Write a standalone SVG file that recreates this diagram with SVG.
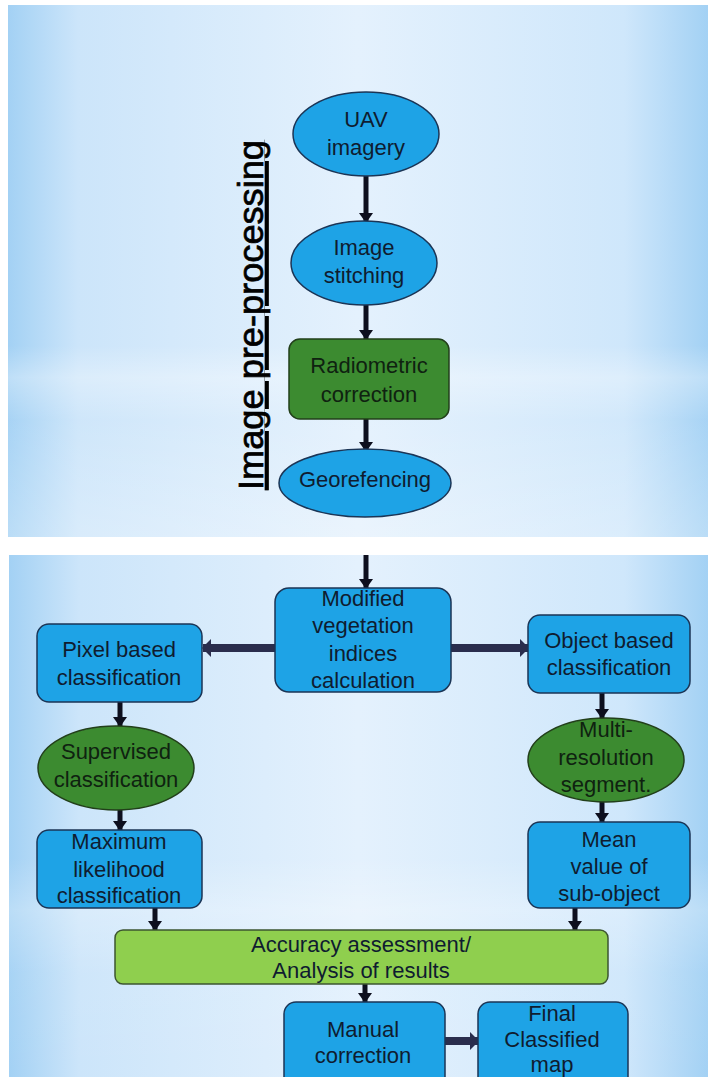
<svg xmlns="http://www.w3.org/2000/svg" width="708" height="1077" viewBox="0 0 708 1077">
<defs>
<linearGradient id="bgH" x1="0" y1="0" x2="1" y2="0">
<stop offset="0" stop-color="#a3d1f4"/>
<stop offset="0.1" stop-color="#cce5fa"/>
<stop offset="0.5" stop-color="#e4f1fd"/>
<stop offset="0.88" stop-color="#cfe7fb"/>
<stop offset="1" stop-color="#a3d1f4"/>
</linearGradient>
<linearGradient id="bandTop" x1="0" y1="0" x2="0" y2="1">
<stop offset="0" stop-color="#ffffff" stop-opacity="0"/>
<stop offset="0.64" stop-color="#ffffff" stop-opacity="0"/>
<stop offset="0.7" stop-color="#ffffff" stop-opacity="0.3"/>
<stop offset="0.78" stop-color="#ffffff" stop-opacity="0.05"/>
<stop offset="1" stop-color="#ffffff" stop-opacity="0.25"/>
</linearGradient>
<linearGradient id="bandBot" x1="0" y1="0" x2="0" y2="1">
<stop offset="0" stop-color="#ffffff" stop-opacity="0"/>
<stop offset="0.58" stop-color="#ffffff" stop-opacity="0"/>
<stop offset="0.68" stop-color="#ffffff" stop-opacity="0.25"/>
<stop offset="0.8" stop-color="#ffffff" stop-opacity="0.05"/>
<stop offset="1" stop-color="#ffffff" stop-opacity="0"/>
</linearGradient>
<marker id="ahV" markerUnits="userSpaceOnUse" markerWidth="10" markerHeight="14" refX="9" refY="7" orient="auto" viewBox="0 0 10 14">
<path d="M0,0 L10,7 L0,14 Z" fill="#0d0f1e"/>
</marker>
<marker id="ahH" markerUnits="userSpaceOnUse" markerWidth="9" markerHeight="18" refX="8" refY="9" orient="auto" viewBox="0 0 9 18">
<path d="M0,0 L9,9 L0,18 Z" fill="#2a2d4d"/>
</marker>
<style>
.blue{fill:#1ea3e6;stroke:#1b3556;stroke-width:1.5}
.green{fill:#3c8b30;stroke:#223f1a;stroke-width:1.5}
.lgreen{fill:#8fcf4e;stroke:#3d5530;stroke-width:1.5}
.t{font-family:"Liberation Sans","Open Sans",sans-serif;font-size:22px;fill:#0f1c30;text-anchor:middle}
.tg{fill:#0f2210}
.vline{stroke:#0d0f1e;stroke-width:5;fill:none}
.hline{stroke:#2a2d4d;stroke-width:8;fill:none}
</style>
</defs>

<rect x="0" y="0" width="708" height="1077" fill="#ffffff"/>
<rect x="8" y="5" width="700" height="532" fill="url(#bgH)"/>
<rect x="8" y="5" width="700" height="532" fill="url(#bandTop)"/>
<rect x="9" y="555" width="699" height="522" fill="url(#bgH)"/>
<rect x="9" y="555" width="699" height="522" fill="url(#bandBot)"/>

<g id="title">
<text x="0" y="0" transform="translate(263,315) rotate(-90)" font-family="'Liberation Sans','Open Sans',sans-serif" font-size="35" fill="#000000" stroke="#000000" stroke-width="0.7" text-anchor="middle" text-decoration="underline" textLength="350" lengthAdjust="spacingAndGlyphs">Image pre-processing</text>
</g>

<g id="connectors">
<line class="vline" x1="366" y1="176" x2="366" y2="222" marker-end="url(#ahV)"/>
<line class="vline" x1="366" y1="305" x2="366" y2="339" marker-end="url(#ahV)"/>
<line class="vline" x1="366" y1="419" x2="366" y2="451" marker-end="url(#ahV)"/>
<line class="vline" x1="366" y1="555" x2="366" y2="588" marker-end="url(#ahV)"/>
<line class="hline" x1="275" y1="648" x2="203" y2="648" marker-end="url(#ahH)"/>
<line class="hline" x1="451" y1="648" x2="528" y2="648" marker-end="url(#ahH)"/>
<line class="vline" x1="120" y1="702" x2="120" y2="726" marker-end="url(#ahV)"/>
<line class="vline" x1="120" y1="810" x2="120" y2="830" marker-end="url(#ahV)"/>
<line class="vline" x1="155" y1="908" x2="155" y2="930" marker-end="url(#ahV)"/>
<line class="vline" x1="602" y1="693" x2="602" y2="718" marker-end="url(#ahV)"/>
<line class="vline" x1="602" y1="802" x2="602" y2="822" marker-end="url(#ahV)"/>
<line class="vline" x1="575" y1="908" x2="575" y2="930" marker-end="url(#ahV)"/>
<line class="vline" x1="365" y1="984" x2="365" y2="1002" marker-end="url(#ahV)"/>
<line class="hline" x1="445" y1="1041" x2="478" y2="1041" marker-end="url(#ahH)"/>
</g>

<g id="uav">
<ellipse class="blue" cx="366" cy="134" rx="73" ry="42"/>
<text class="t" x="366" y="127">UAV</text>
<text class="t" x="366" y="155">imagery</text>
</g>
<g id="stitching">
<ellipse class="blue" cx="364" cy="263" rx="73" ry="42"/>
<text class="t" x="364" y="255">Image</text>
<text class="t" x="364" y="283">stitching</text>
</g>
<g id="radiometric">
<rect class="green" x="289" y="339" width="160" height="80" rx="11"/>
<text class="t tg" x="369" y="373">Radiometric</text>
<text class="t tg" x="369" y="402">correction</text>
</g>
<g id="georef">
<ellipse class="blue" cx="365" cy="483" rx="86" ry="34"/>
<text class="t" x="365" y="487">Georefencing</text>
</g>

<g id="modified">
<rect class="blue" x="275" y="588" width="176" height="104" rx="14"/>
<text class="t" x="363" y="606">Modified</text>
<text class="t" x="363" y="633">vegetation</text>
<text class="t" x="363" y="661">indices</text>
<text class="t" x="363" y="688">calculation</text>
</g>
<g id="pixel">
<rect class="blue" x="37" y="624" width="165" height="78" rx="12"/>
<text class="t" x="119" y="657">Pixel based</text>
<text class="t" x="119" y="685">classification</text>
</g>
<g id="object">
<rect class="blue" x="528" y="615" width="162" height="78" rx="12"/>
<text class="t" x="609" y="648">Object based</text>
<text class="t" x="609" y="675">classification</text>
</g>
<g id="supervised">
<ellipse class="green" cx="116" cy="768" rx="78" ry="42"/>
<text class="t tg" x="116" y="759">Supervised</text>
<text class="t tg" x="116" y="787">classification</text>
</g>
<g id="multires">
<ellipse class="green" cx="606" cy="760" rx="78" ry="42"/>
<text class="t tg" x="606" y="737">Multi-</text>
<text class="t tg" x="606" y="765">resolution</text>
<text class="t tg" x="606" y="792">segment.</text>
</g>
<g id="maxlike">
<rect class="blue" x="37" y="830" width="165" height="78" rx="12"/>
<text class="t" x="119" y="849">Maximum</text>
<text class="t" x="119" y="877">likelihood</text>
<text class="t" x="119" y="903">classification</text>
</g>
<g id="mean">
<rect class="blue" x="528" y="822" width="162" height="86" rx="12"/>
<text class="t" x="609" y="847">Mean</text>
<text class="t" x="609" y="874">value of</text>
<text class="t" x="609" y="901">sub-object</text>
</g>
<g id="accuracy">
<rect class="lgreen" x="115" y="930" width="493" height="54" rx="8"/>
<text class="t" x="361" y="952">Accuracy assessment/</text>
<text class="t" x="361" y="978">Analysis  of results</text>
</g>
<g id="manual">
<rect class="blue" x="284" y="1002" width="161" height="90" rx="12"/>
<text class="t" x="363" y="1037">Manual</text>
<text class="t" x="363" y="1063">correction</text>
</g>
<g id="final">
<rect class="blue" x="478" y="1002" width="150" height="90" rx="12"/>
<text class="t" x="552" y="1021">Final</text>
<text class="t" x="552" y="1047">Classified</text>
<text class="t" x="552" y="1072">map</text>
</g>
</svg>
